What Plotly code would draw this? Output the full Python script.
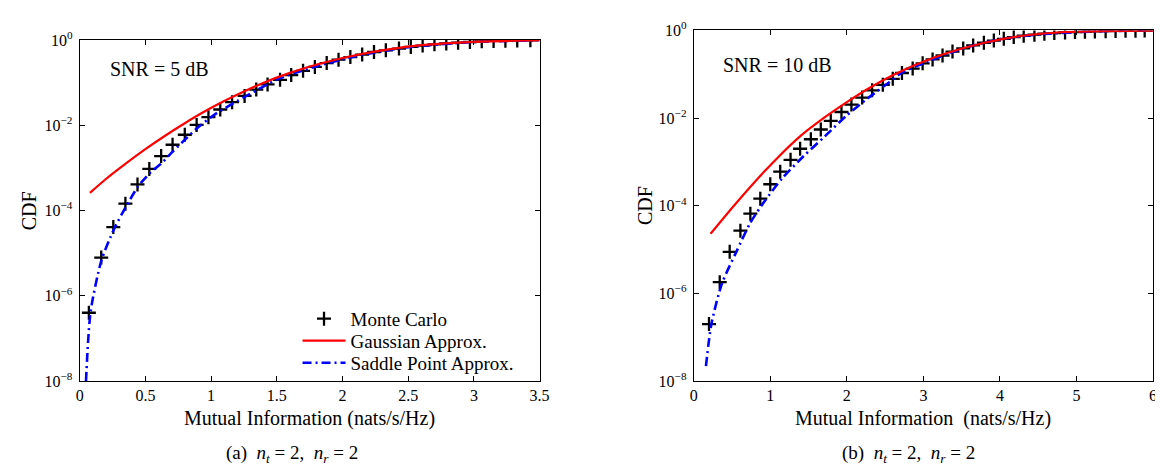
import plotly.graph_objects as go

W, H = 1163, 474

# ---------------- data: panel (a), SNR = 5 dB ----------------
a_mc_x = [0.07, 0.164, 0.256, 0.348, 0.44, 0.53, 0.62, 0.707, 0.80, 0.89, 0.98, 1.07,
          1.16, 1.255, 1.344, 1.43, 1.525, 1.61, 1.70, 1.79, 1.88, 1.97, 2.06, 2.15,
          2.24, 2.33, 2.43, 2.52, 2.61, 2.70, 2.79, 2.88, 2.97, 3.06, 3.15, 3.24, 3.33, 3.43]
a_mc_y = [4.0e-7, 7.9e-6, 4.1e-5, 1.45e-4, 4.1e-4, 9.5e-4, 1.9e-3, 3.5e-3, 6.0e-3, 1.02e-2,
          1.55e-2, 2.35e-2, 3.5e-2, 4.9e-2, 6.9e-2, 9.1e-2, 0.117, 0.151, 0.19, 0.234, 0.288,
          0.347, 0.398, 0.457, 0.525, 0.575, 0.631, 0.692, 0.741, 0.794, 0.832, 0.871, 0.902,
          0.933, 0.955, 0.966, 0.977, 0.989]

a_gauss_x = [0.078, 0.2, 0.35, 0.5, 0.65, 0.8, 0.95, 1.1, 1.25, 1.4, 1.6, 1.8, 2.0, 2.3,
             2.6, 3.0, 3.5]
a_gauss_y = [2.6e-4, 5.5e-4, 1.26e-3, 2.75e-3, 5.7e-3, 1.12e-2, 2.1e-2, 3.7e-2, 6.2e-2, 0.1,
             0.17, 0.263, 0.38, 0.575, 0.759, 0.912, 0.99]

a_sp_x = [0.048, 0.083, 0.164, 0.26, 0.35, 0.445, 0.54, 0.63, 0.71, 0.81, 0.90, 1.04,
          1.27, 1.52, 1.8, 2.1, 2.5, 3.0, 3.5]
a_sp_y = [1.0e-8, 4.2e-7, 6.5e-6, 3.6e-5, 1.2e-4, 3.7e-4, 7.9e-4, 1.35e-3, 2.45e-3, 4.9e-3,
          8.9e-3, 1.9e-2, 4.9e-2, 0.126, 0.24, 0.417, 0.676, 0.90, 0.99]

# ---------------- data: panel (b), SNR = 10 dB ----------------
b_mc_x = [0.2, 0.34, 0.47, 0.61, 0.74, 0.87, 1.0, 1.13, 1.265, 1.39, 1.53, 1.66, 1.79,
          1.93, 2.06, 2.20, 2.33, 2.47, 2.60, 2.72, 2.86, 2.99, 3.12, 3.25, 3.38, 3.52,
          3.65, 3.79, 3.92, 4.05, 4.18, 4.31, 4.45, 4.58, 4.71, 4.85, 4.98, 5.11, 5.24,
          5.38, 5.51, 5.64, 5.77, 5.89]
b_mc_y = [2.0e-7, 1.8e-6, 8.9e-6, 2.7e-5, 6.6e-5, 1.45e-4, 3.1e-4, 6.0e-4, 1.12e-3, 2.0e-3,
          3.3e-3, 5.5e-3, 8.7e-3, 1.38e-2, 2.04e-2, 2.95e-2, 4.3e-2, 5.75e-2, 7.9e-2, 0.107,
          0.135, 0.178, 0.219, 0.269, 0.331, 0.389, 0.457, 0.525, 0.589, 0.646, 0.708,
          0.759, 0.804, 0.845, 0.875, 0.904, 0.92, 0.935, 0.95, 0.966, 0.977, 0.984, 0.991, 0.995]

b_gauss_x = [0.22, 0.5, 0.8, 1.1, 1.4, 1.7, 2.0, 2.3, 2.6, 2.9, 3.3, 3.8, 4.3, 4.8, 5.3, 6.0]
b_gauss_y = [2.29e-5, 8.9e-5, 3.55e-4, 1.27e-3, 3.98e-3, 1.01e-2, 2.32e-2, 4.95e-2, 9.5e-2,
             0.166, 0.302, 0.525, 0.759, 0.912, 0.966, 0.995]

b_sp_x = [0.16, 0.23, 0.37, 0.56, 0.74, 0.93, 1.16, 1.44, 1.71, 1.99, 2.27, 2.55, 2.73,
          3.0, 3.5, 4.0, 4.5, 5.0, 5.5, 6.0]
b_sp_y = [2.2e-8, 1.95e-7, 1.7e-6, 9.1e-6, 4.1e-5, 1.3e-4, 4.3e-4, 1.38e-3, 3.8e-3, 1.12e-2,
          2.8e-2, 6.5e-2, 0.112, 0.178, 0.38, 0.63, 0.81, 0.92, 0.977, 0.995]

# ---------------- tick labels ----------------
y_tickvals = [1e-8, 1e-6, 1e-4, 1e-2, 1]
y_ticktext = ["10<sup>\u22128</sup>", "10<sup>\u22126</sup>", "10<sup>\u22124</sup>",
              "10<sup>\u22122</sup>", "10<sup>0</sup>"]
a_xticks = [0, 0.5, 1, 1.5, 2, 2.5, 3, 3.5]
a_xtext = ["0", "0.5", "1", "1.5", "2", "2.5", "3", "3.5"]
b_xticks = [0, 1, 2, 3, 4, 5, 6]
b_xtext = ["0", "1", "2", "3", "4", "5", "6"]

FONT = "Liberation Serif"
RED = "#ff0000"
BLUE = "#0000ff"


def px_x(p):
    return p / W


def px_y(p):
    return 1 - p / H


fig = go.Figure()

mc_marker = dict(symbol="cross-thin", size=10, color="black", line=dict(width=2.3, color="black"))


def add_panel(xa, ya, mcx, mcy, gx, gy, sx, sy, legend):
    fig.add_trace(go.Scatter(x=mcx, y=mcy, mode="markers", marker=mc_marker, name="Monte Carlo",
                             xaxis=xa, yaxis=ya, showlegend=legend, legend="legend"))
    fig.add_trace(go.Scatter(x=sx, y=sy, mode="lines", name="Saddle Point Approx.",
                             line=dict(color=BLUE, width=2.6, dash="9px,4px,2px,4px",
                                       shape="spline", smoothing=0.7),
                             xaxis=xa, yaxis=ya, showlegend=legend, legend="legend3"))
    fig.add_trace(go.Scatter(x=gx, y=gy, mode="lines", name="Gaussian Approx.",
                             line=dict(color=RED, width=2.2, shape="spline", smoothing=0.7),
                             xaxis=xa, yaxis=ya, showlegend=legend, legend="legend2"))


add_panel("x", "y", a_mc_x, a_mc_y, a_gauss_x, a_gauss_y, a_sp_x, a_sp_y, True)
add_panel("x2", "y2", b_mc_x, b_mc_y, b_gauss_x, b_gauss_y, b_sp_x, b_sp_y, False)

axis_common = dict(showline=True, linecolor="black", linewidth=1, mirror="allticks",
                   ticks="inside", ticklen=5, tickcolor="black", tickwidth=1,
                   showgrid=False, zeroline=False,
                   tickfont=dict(family=FONT, size=16, color="black"))

leg_common = dict(xanchor="left", yanchor="middle", bgcolor="rgba(0,0,0,0)",
                  font=dict(family=FONT, size=19, color="black"), borderwidth=0,
                  itemwidth=43)

LEG_X = 289

fig.update_layout(
    width=W, height=H,
    margin=dict(l=0, r=0, t=0, b=0),
    paper_bgcolor="white", plot_bgcolor="white",
    font=dict(family=FONT, color="black"),
    xaxis=dict(domain=[px_x(68.5), px_x(534)], range=[0, 3.5], anchor="y",
               tickvals=a_xticks, ticktext=a_xtext, ticklabelstandoff=0, **axis_common),
    yaxis=dict(domain=[px_y(378), px_y(22)], type="log", range=[-8, 0], anchor="x",
               tickvals=y_tickvals, ticktext=y_ticktext, ticklabelstandoff=3, **axis_common),
    xaxis2=dict(domain=[px_x(690), px_x(1155)], range=[0, 6], anchor="y2",
                tickvals=b_xticks, ticktext=b_xtext, ticklabelstandoff=0, **axis_common),
    yaxis2=dict(domain=[px_y(378), px_y(12)], type="log", range=[-8, 0], anchor="x2",
                tickvals=y_tickvals, ticktext=y_ticktext, ticklabelstandoff=3, **axis_common),
    legend=dict(x=px_x(LEG_X), y=px_y(313), **leg_common),
    legend2=dict(x=px_x(LEG_X), y=px_y(336), **leg_common),
    legend3=dict(x=px_x(LEG_X), y=px_y(359), **leg_common),
    showlegend=True,
)

ann = [
    dict(text="SNR = 5 dB", x=px_x(97), y=px_y(52), xanchor="left", yanchor="middle", size=20),
    dict(text="SNR = 10 dB", x=px_x(718), y=px_y(48), xanchor="left", yanchor="middle", size=20),
    dict(text="CDF", x=px_x(17), y=px_y(200), xanchor="center", yanchor="middle", size=20, angle=-90),
    dict(text="CDF", x=px_x(640), y=px_y(195), xanchor="center", yanchor="middle", size=20, angle=-90),
    dict(text="Mutual Information (nats/s/Hz)", x=px_x(301), y=px_y(417),
         xanchor="center", yanchor="middle", size=20),
    dict(text="Mutual Information&nbsp; (nats/s/Hz)", x=px_x(922), y=px_y(417),
         xanchor="center", yanchor="middle", size=20),
    dict(text="(a)&nbsp; <i>n</i><sub><i>t</i></sub> = 2,&nbsp; <i>n</i><sub><i>r</i></sub> = 2",
         x=px_x(283), y=px_y(454), xanchor="center", yanchor="middle", size=19),
    dict(text="(b)&nbsp; <i>n</i><sub><i>t</i></sub> = 2,&nbsp; <i>n</i><sub><i>r</i></sub> = 2",
         x=px_x(907), y=px_y(454), xanchor="center", yanchor="middle", size=19),
]
for a in ann:
    fig.add_annotation(text=a["text"], x=a["x"], y=a["y"], xref="paper", yref="paper",
                       xanchor=a["xanchor"], yanchor=a["yanchor"], showarrow=False,
                       textangle=a.get("angle", 0),
                       font=dict(family=FONT, size=a["size"], color="black"))

fig.write_html("out.html")
